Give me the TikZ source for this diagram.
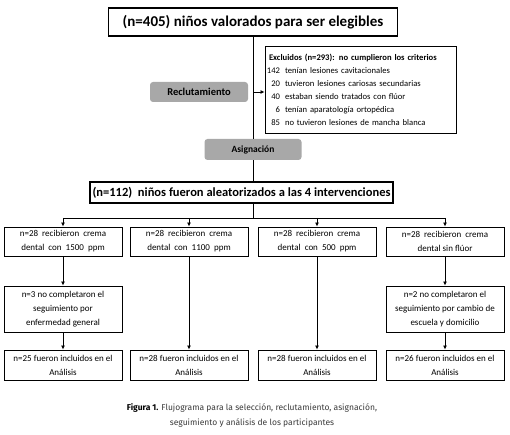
\documentclass[tikz,border=0pt]{standalone}
\usepackage{fontspec}
\setmainfont{Carlito}
\newfontfamily\capfont{Fira Sans}
\usetikzlibrary{arrows.meta}
\definecolor{phasegray}{HTML}{A8A8A8}
\definecolor{capgray}{HTML}{3A3A3A}
\tikzset{
  box/.style={draw, line width=0.9pt, align=center, inner sep=1pt,
    minimum width=118pt, font=\fontsize{9}{14}\selectfont},
  bigbox/.style={draw, line width=1.4pt, align=center, inner sep=1pt},
  phase/.style={fill=phasegray, rounded corners=3pt, minimum height=21pt,
    font=\bfseries\fontsize{9.5}{10}\selectfont},
  arr/.style={-{Latex[length=4pt,width=4pt]}, line width=0.9pt},
}
\newcommand{\num}[1]{\makebox[11pt][r]{#1}\hspace{5pt}}
\begin{document}
\begin{tikzpicture}[x=1pt, y=-1pt, line width=0.9pt]
  \useasboundingbox (0,0) rectangle (510,435);
  % selection
  \node[bigbox, minimum width=289pt, minimum height=28pt,
    font=\bfseries\fontsize{15}{16}\selectfont] (top) at (253,22)
    {(n=405) niños valorados para ser elegibles};
  \node[phase, minimum width=98pt, minimum height=20pt,
    font=\bfseries\fontsize{10.5}{11}\selectfont] (recl) at (199,92) {Reclutamiento};
  \node[draw, line width=0.9pt, align=left, minimum width=191pt, minimum height=87pt,
    text width=183pt, font=\fontsize{8.6}{13}\selectfont] (excl) at (360.5,89.5)
    {\textbf{Excluidos (n=293): no cumplieron los criterios}\\
     \num{142}tenían lesiones cavitacionales\\
     \num{20}tuvieron lesiones cariosas secundarias\\
     \num{40}estaban siendo tratados con flúor\\
     \num{6}tenían aparatología ortopédica\\
     \num{85}no tuvieron lesiones de mancha blanca};
  \node[phase, minimum width=97pt] (asig) at (253,149.5) {Asignación};
  \node[bigbox, minimum width=303pt, minimum height=21pt,
    font=\bfseries\fontsize{12.5}{13}\selectfont] (rand) at (241.5,192.5)
    {(n=112)\ \ niños fueron aleatorizados a las 4 intervenciones};
  % groups
  \node[box, minimum height=29pt] (a1) at (63,241.5) {n=28\ \ recibieron\ \ crema\\dental\ \ con\ \ 1500\ \ ppm};
  \node[box, minimum height=29pt] (a2) at (189,241.5) {n=28\ \ recibieron\ \ crema\\dental\ \ con\ \ 1100\ \ ppm};
  \node[box, minimum height=29pt] (a3) at (317,241.5) {n=28\ \ recibieron\ \ crema\\dental\ \ con\ \ 500\ \ ppm};
  \node[box, minimum height=29pt] (a4) at (445,241.5) {n=28\ \ recibieron\ \ crema\\dental sin flúor};
  % follow-up
  \node[box, minimum height=46pt] (d1) at (63,309) {n=3 no completaron el\\seguimiento por\\enfermedad general};
  \node[box, minimum height=46pt] (d4) at (445,309) {n=2 no completaron el\\seguimiento por cambio de\\escuela y domicilio};
  % analysis
  \node[box, minimum height=30pt] (f1) at (63,365) {n=25 fueron incluidos en el\\Análisis};
  \node[box, minimum height=30pt] (f2) at (189,365) {n=28 fueron incluidos en el\\Análisis};
  \node[box, minimum height=30pt] (f3) at (317,365) {n=28 fueron incluidos en el\\Análisis};
  \node[box, minimum height=30pt] (f4) at (445,365) {n=26 fueron incluidos en el\\Análisis};
  % connectors
  \coordinate (split) at (253,218);
  \draw (top.south) -- (asig.north);
  \draw[arr] (top.south |- recl.east) -- (excl.west |- recl.east);
  \draw (asig.south) -- (asig.south |- rand.north);
  \draw (split |- rand.south) -- (split);
  \draw (a1.north |- split) -- (a4.north |- split);
  \foreach \g in {a1,a2,a3,a4}
    \draw[arr] (\g.north |- split) -- (\g.north);
  \draw[arr] (a1) -- (d1);
  \draw[arr] (d1) -- (f1);
  \draw[arr] (a2) -- (f2);
  \draw[arr] (a3) -- (f3);
  \draw[arr] (a4) -- (d4);
  \draw[arr] (d4) -- (f4);
  % caption
  \node[align=center, text=capgray, font=\capfont\fontsize{8.5}{15}\selectfont] (cap) at (252,415.5)
    {{\bfseries\color{black}Figura 1.} Flujograma para la selección, reclutamiento, asignación,\\
     seguimiento y análisis de los participantes};
\end{tikzpicture}
\end{document}
